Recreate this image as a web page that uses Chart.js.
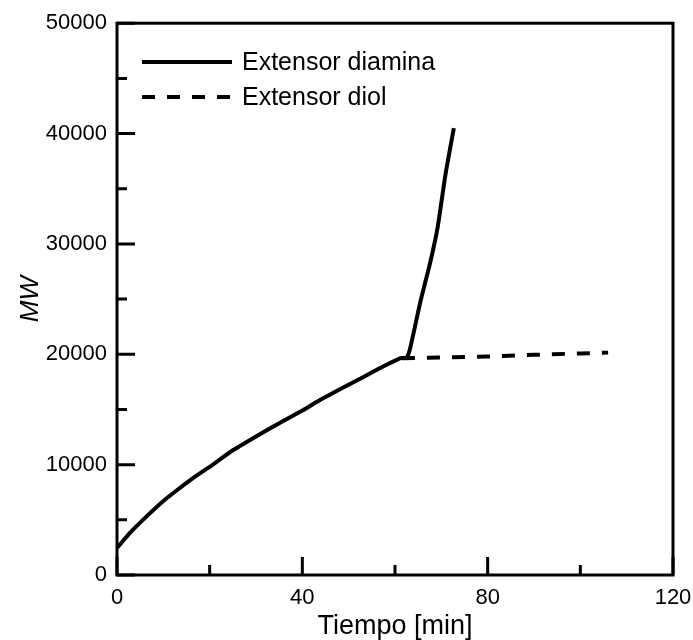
<!DOCTYPE html>
<html>
<head>
<meta charset="utf-8">
<script src="https://cdn.jsdelivr.net/npm/chart.js@4"></script>
<style>
  html, body { margin: 0; padding: 0; background: #fff; }
  #wrap { width: 693px; height: 640px; }
</style>
</head>
<body>
<div id="wrap"><canvas id="mwChart" width="693" height="640"></canvas></div>
<script>
// Extensor diamina (solid)
const diaminaTime = [0, 3, 6, 10, 13, 17, 21, 25, 30, 35, 40, 44, 48, 53, 57, 61.2, 62.5, 63.3, 65.5, 67.7, 69.2, 70.9, 72.7];
const diaminaMW   = [2450, 3900, 5150, 6700, 7700, 8950, 10100, 11300, 12550, 13750, 14900, 15900, 16800, 17900, 18800, 19650, 19700, 20600, 24800, 28500, 31500, 36300, 40500];
// Extensor diol (dashed)
const diolTime = [61.5, 70, 80, 90, 100, 106];
const diolMW   = [19650, 19700, 19800, 19950, 20080, 20150];

const xTicks = [0, 40, 80, 120];
const xMinor = [20, 60, 100];
const yTicks = [0, 10000, 20000, 30000, 40000, 50000];
const yMinor = [5000, 15000, 25000, 35000, 45000];

const legendItems = ['Extensor diamina', 'Extensor diol'];
const FONT = '"Liberation Sans", Arial, sans-serif';

function toPoints(xs, ys) {
    return xs.map((x, i) => ({x: x, y: ys[i]}));
}

// frame, inward ticks and legend
const framePlugin = {
    id: 'frame',
    afterDraw(chart) {
        const ctx = chart.ctx;
        const a = chart.chartArea;
        const xs = chart.scales.x, ys = chart.scales.y;
        ctx.save();
        ctx.strokeStyle = '#000';
        ctx.lineWidth = 3;
        ctx.strokeRect(a.left, a.top, a.right - a.left, a.bottom - a.top);

        ctx.beginPath();
        xTicks.forEach(v => { const p = xs.getPixelForValue(v); ctx.moveTo(p, a.bottom); ctx.lineTo(p, a.bottom - 18); });
        xMinor.forEach(v => { const p = xs.getPixelForValue(v); ctx.moveTo(p, a.bottom); ctx.lineTo(p, a.bottom - 10); });
        yTicks.forEach(v => { const p = ys.getPixelForValue(v); ctx.moveTo(a.left, p); ctx.lineTo(a.left + 18, p); });
        yMinor.forEach(v => { const p = ys.getPixelForValue(v); ctx.moveTo(a.left, p); ctx.lineTo(a.left + 10, p); });
        ctx.stroke();

        // legend
        ctx.font = '25px ' + FONT;
        ctx.fillStyle = '#000';
        ctx.textBaseline = 'middle';
        chart.data.datasets.forEach((ds, i) => {
            const y = 62 + i * 35;
            ctx.lineWidth = ds.borderWidth;
            ctx.setLineDash(ds.borderDash || []);
            ctx.beginPath();
            ctx.moveTo(142, y);
            ctx.lineTo(232, y);
            ctx.stroke();
            ctx.setLineDash([]);
            ctx.fillText(legendItems[i], 242, y + 1);
        });
        ctx.restore();
    }
};

new Chart(document.getElementById('mwChart'), {
    type: 'line',
    data: {
        datasets: [{
            label: legendItems[0],
            data: toPoints(diaminaTime, diaminaMW),
            borderColor: '#000',
            borderWidth: 4,
            pointRadius: 0,
            tension: 0.2,
            fill: false
        }, {
            label: legendItems[1],
            data: toPoints(diolTime, diolMW),
            borderColor: '#000',
            borderWidth: 4,
            borderDash: [13, 12],
            pointRadius: 0,
            tension: 0,
            fill: false
        }]
    },
    options: {
        responsive: false,
        animation: false,
        layout: { padding: { left: 0, top: 21, right: 0, bottom: 0 } },
        plugins: {
            legend: { display: false },
            tooltip: { enabled: false }
        },
        scales: {
            x: {
                type: 'linear',
                min: 0,
                max: 120,
                afterFit(scale) { scale.height = 65; scale.paddingRight = 20; },
                afterBuildTicks(scale) { scale.ticks = xTicks.map(v => ({value: v})); },
                grid: { display: false, drawTicks: false },
                border: { display: false },
                ticks: { color: '#000', font: { size: 22, family: FONT }, padding: 10, maxRotation: 0,
                         callback: v => String(v) },
                title: { display: true, text: 'Tiempo [min]', color: '#000',
                         font: { size: 27, family: FONT, lineHeight: 1 }, padding: { top: 0, bottom: 0 } }
            },
            y: {
                min: 0,
                max: 50000,
                afterFit(scale) { scale.width = 117; },
                afterBuildTicks(scale) { scale.ticks = yTicks.map(v => ({value: v})); },
                grid: { display: false, drawTicks: false },
                border: { display: false },
                ticks: { color: '#000', font: { size: 22, family: FONT }, padding: 10,
                         callback: v => String(v) },
                title: { display: true, text: 'MW', color: '#000',
                         font: { size: 26, family: FONT, style: 'italic', lineHeight: 1 }, padding: { top: 18, bottom: 0 } }
            }
        }
    },
    plugins: [framePlugin]
});
</script>
</body>
</html>
